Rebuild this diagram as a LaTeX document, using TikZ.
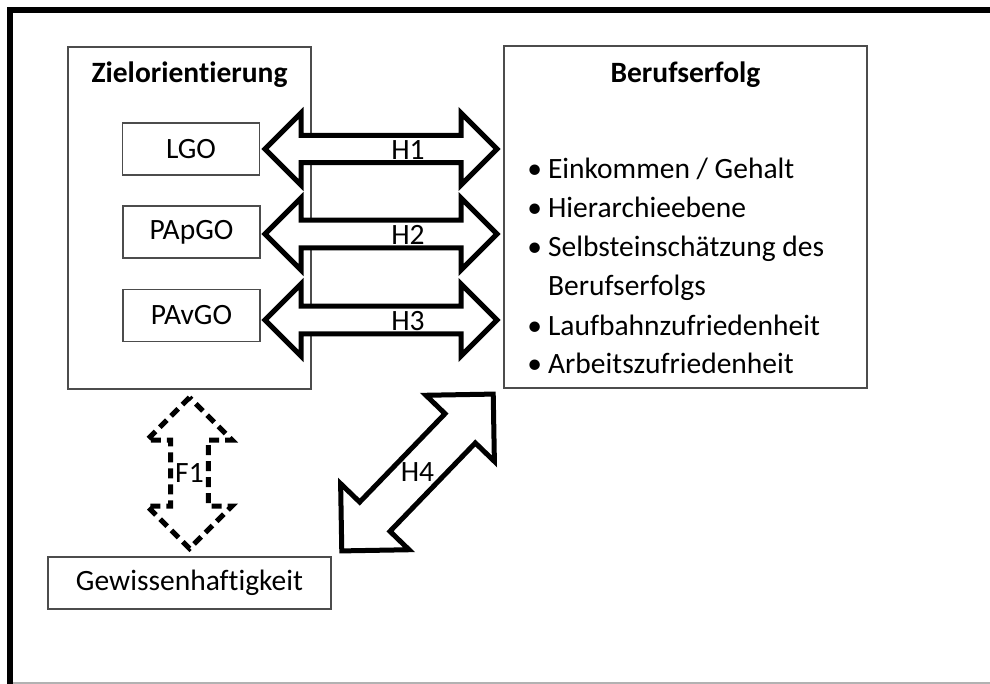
\documentclass[tikz,border=0pt]{standalone}
\usepackage{fontspec}
\setmainfont{Carlito}[Ligatures=NoCommon]
\usetikzlibrary{shapes.arrows,calc}
\tikzset{
  box/.style={draw=black!70, line width=0.7pt, rectangle, inner sep=0pt},
  goalbox/.style={box, minimum width=68.5pt, minimum height=26pt},
  heading/.style={font=\fontsize{14.75}{17.5}\selectfont\bfseries},
  hyparrow/.style={double arrow, draw=black, fill=white, line width=2.5pt, inner sep=0pt,
    double arrow head extend=9.75pt, minimum width=36pt, minimum height=116pt},
  hyplabel/.style={label={[xshift=13.5pt, yshift=-0.5pt]center:#1}},
  factorarrow/.style={hyparrow, dash pattern=on 5pt off 3pt, shape border rotate=90,
    double arrow head extend=10.5pt, minimum width=42.5pt, minimum height=75.5pt}
}
\begin{document}
\begin{tikzpicture}[x=0.5pt, y=-0.5pt, font=\fontsize{14.75}{17.5}\selectfont]
  \useasboundingbox (0,0) rectangle (990,684);
  \draw [black!30, line width=0.6pt] (10,683) -- (995,683);
  \draw [black, line width=2.8pt] (10,690) -- (10,10) -- (995,10);

  \node [box, minimum width=121.5pt, minimum height=171pt] (ziel) at (189.5,218) {};
  \node [heading, anchor=base] (zieltitle) at (189.5,83) {Zielorientierung};
  \node [goalbox] (lgo) at (191,149) {LGO};
  \node [goalbox] (papgo) at (191.5,232) {PApGO};
  \node [goalbox] (pavgo) at (191.5,315.5) {PAvGO};

  \node [box, minimum width=181.5pt, minimum height=171pt] (beruf) at (685.5,217) {};
  \node [heading, anchor=base] (beruftitle) at (685.5,83) {Berufserfolg};
  \node [anchor=base west, inner sep=0pt, font=\fontsize{14.75}{19.5}\selectfont] (kriterien) at (527,179)
    {\begin{tabular}[t]{@{}l@{\hspace{3pt}}l@{}}
      \textbullet & Einkommen / Gehalt\\
      \textbullet & Hierarchieebene\\
      \textbullet & Selbsteinschätzung des\\
                  & Berufserfolgs\\
      \textbullet & Laufbahnzufriedenheit\\
      \textbullet & Arbeitszufriedenheit
    \end{tabular}};

  \node [box, minimum width=141.5pt, minimum height=26pt] (gewissen) at (189.5,583) {Gewissenhaftigkeit};

  \node [hyparrow, hyplabel=H1] (h1) at (381,149) {\phantom{H1}};
  \node [hyparrow, hyplabel=H2] (h2) at (381,234) {\phantom{H2}};
  \node [hyparrow, hyplabel=H3] (h3) at (381,320) {\phantom{H3}};
  \node [factorarrow] (f1) at ($(ziel.south)!.5!(gewissen.north)$) {F1};
  \node [hyparrow, rotate=46, double arrow head extend=13.25pt,
    minimum width=45pt, minimum height=109pt] (h4) at ($(gewissen.north east)!.5!(beruf.south west)$) {\rotatebox{-46}{H4}};
\end{tikzpicture}
\end{document}
